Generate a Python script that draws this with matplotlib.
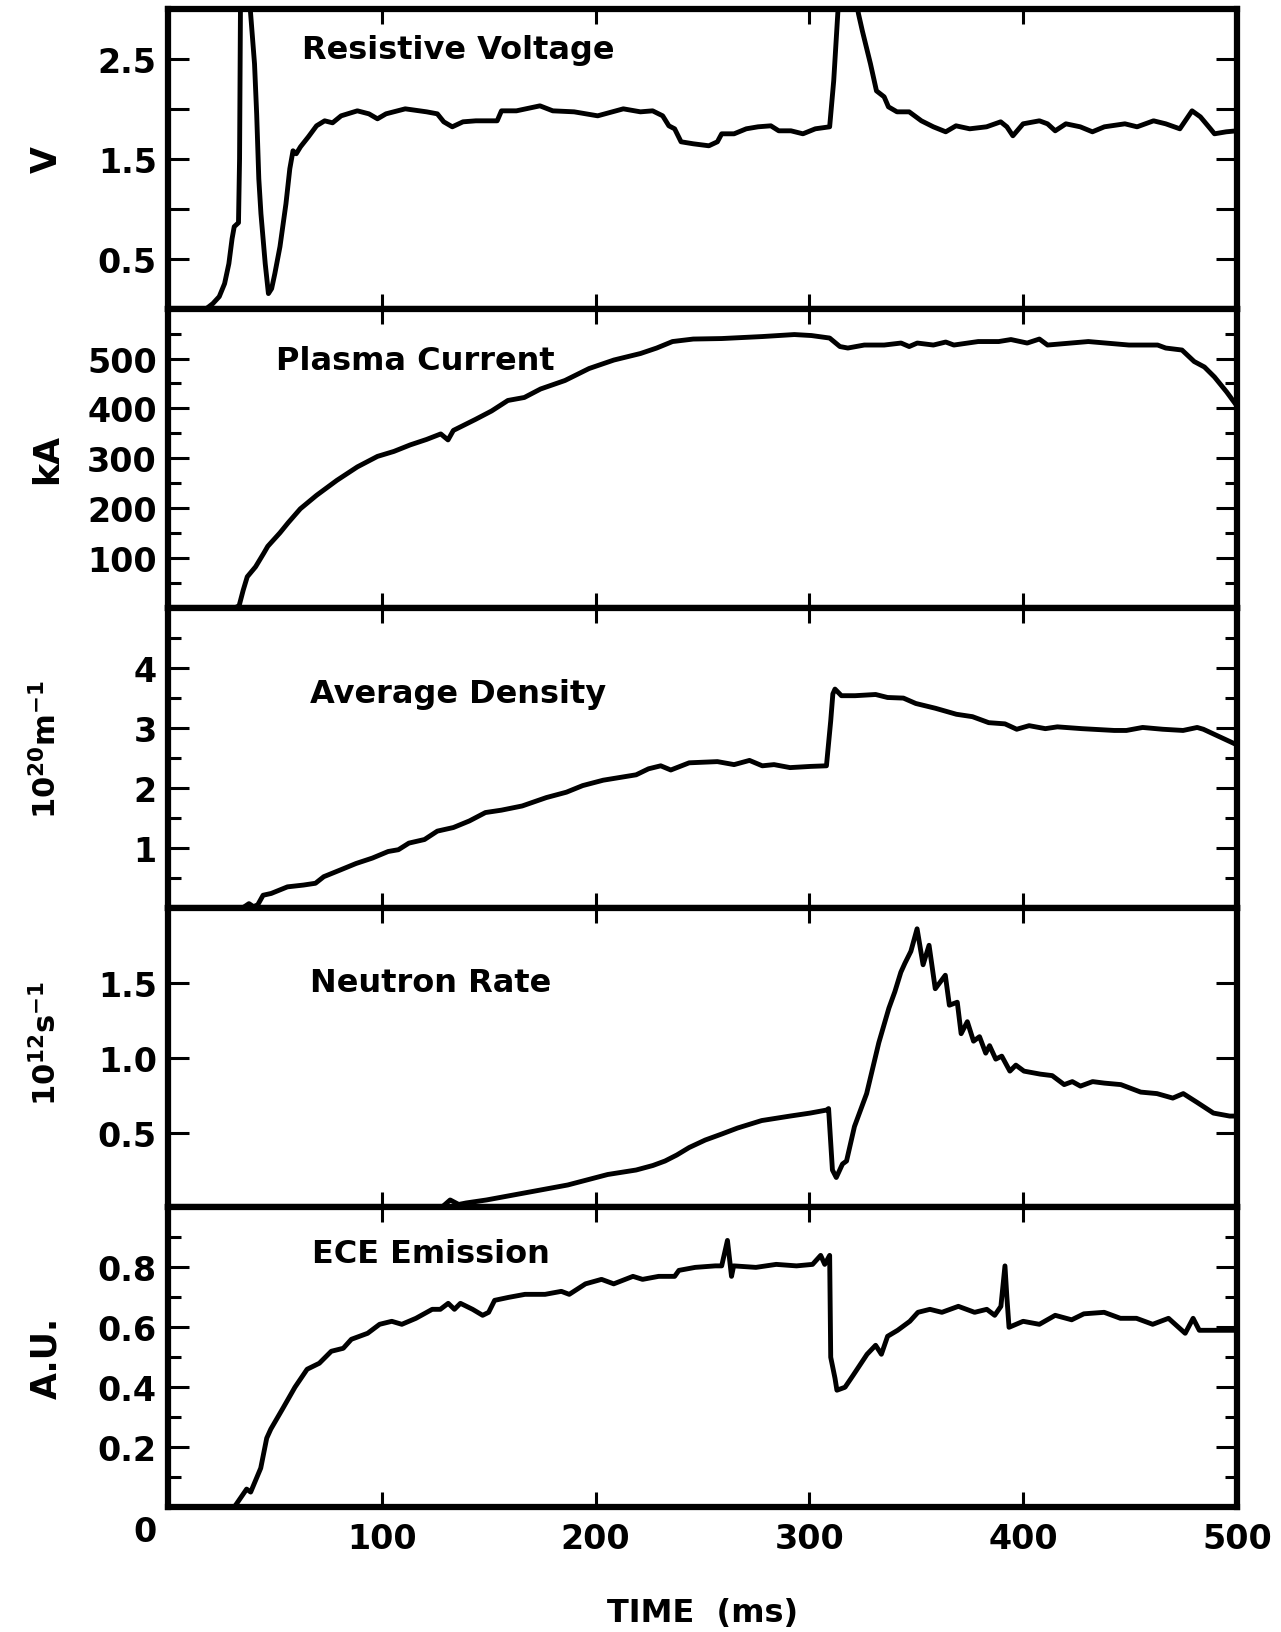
import matplotlib
matplotlib.use("Agg")
import matplotlib.pyplot as plt
from matplotlib.ticker import FixedLocator
from matplotlib.transforms import ScaledTranslation

# time base (ms) and traces for each diagnostic
t_volt = [0, 18, 21, 24, 26.5, 28.5, 30, 31, 33, 33.5, 34, 37, 38.5, 40.5, 41.5, 42.5, 43.5,
          45.5, 47, 48.5, 50, 52.4, 55.2, 57, 58.5, 60, 62, 65.7, 69.5, 73.3, 77, 81, 88.6,
          94, 98, 102, 111, 121, 126, 129, 133, 138, 144, 154, 156, 163, 174, 180, 190, 201,
          213, 221, 226.7, 231.4, 234.3, 237, 240, 245.7, 253, 257, 259, 264.8, 270.5, 276,
          282, 285.7, 291.4, 297, 302.8, 309.5, 311.4, 314, 316, 320, 323, 324.8, 328.6,
          331.4, 335, 337, 341, 346.7, 352.4, 358, 363.8, 368.6, 375, 382.9, 389.5, 392.4,
          395.2, 400, 407.6, 411.4, 415, 420, 426.7, 432.4, 438, 447.6, 453.3, 461, 466.7,
          473.3, 479, 482.9, 487.6, 489.5, 495, 500]
volt = [0, 0, 0.05, 0.12, 0.25, 0.45, 0.7, 0.82, 0.86, 1.5, 3.3, 3.3, 3.0, 2.45, 1.95, 1.3,
        0.95, 0.45, 0.15, 0.2, 0.35, 0.62, 1.05, 1.4, 1.58, 1.55, 1.62, 1.72, 1.83, 1.88,
        1.86, 1.93, 1.98, 1.95, 1.9, 1.95, 2.0, 1.97, 1.95, 1.87, 1.82, 1.87, 1.88, 1.88,
        1.98, 1.98, 2.03, 1.98, 1.97, 1.93, 2.0, 1.97, 1.98, 1.93, 1.83, 1.8, 1.67, 1.65,
        1.63, 1.67, 1.75, 1.75, 1.8, 1.82, 1.83, 1.78, 1.78, 1.75, 1.8, 1.82, 2.28, 3.2,
        3.3, 3.3, 2.95, 2.78, 2.45, 2.18, 2.12, 2.02, 1.97, 1.97, 1.88, 1.82, 1.77, 1.83,
        1.8, 1.82, 1.87, 1.82, 1.73, 1.85, 1.88, 1.85, 1.78, 1.85, 1.82, 1.77, 1.82, 1.85,
        1.82, 1.88, 1.85, 1.8, 1.98, 1.92, 1.8, 1.75, 1.77, 1.78]

t_ip = [0, 31, 33.3, 35.2, 37.1, 41, 44.8, 46.7, 52.4, 56.2, 61.9, 69.5, 79, 88.6, 98, 105.7,
        113.3, 121, 127.6, 131, 133.5, 143.8, 151.4, 159, 166.7, 174.3, 185.7, 197, 208.6,
        221, 228.6, 236, 245.7, 259, 278, 293, 301, 309.5, 314.3, 318, 325.7, 335, 342.9,
        346.7, 350.5, 358, 363.8, 367.6, 379, 388.6, 394.3, 401.9, 407.6, 411.4, 430.5,
        449.5, 462.9, 466.7, 474.3, 480, 484.8, 489.5, 495.2, 500]
ip = [0, 0, 5, 36, 63, 83, 110, 124, 151, 171, 199, 226, 256, 283, 304, 314, 327, 338, 349,
      337, 356, 378, 395, 416, 422, 439, 456, 480, 497, 510, 521, 534, 539, 540, 544, 548,
      546, 541, 524, 521, 527, 527, 531, 524, 531, 527, 533, 527, 534, 534, 538, 531, 539,
      527, 534, 527, 527, 521, 517, 494, 483, 463, 433, 405]

t_dens = [0, 35, 37.9, 40, 42, 44.5, 48.3, 55.9, 63.4, 69, 72.9, 80.5, 88, 95.6, 103, 107.8,
          112.7, 120, 126, 133.5, 141, 148.5, 156, 165.7, 177, 186.4, 194, 203.6, 219, 224.8,
          230.5, 235.2, 243.8, 257, 264.8, 272, 278, 283.5, 291, 300.6, 308, 310, 311, 312,
          315, 321.4, 331, 336.6, 344, 349.8, 359, 368.8, 376.3, 383.9, 391.5, 397, 402.8,
          410.4, 416, 427.5, 442.6, 448.3, 455.9, 465.3, 474.8, 481.4, 484.3, 500]
dens = [0, 0, 0.07, 0.02, 0.05, 0.21, 0.24, 0.35, 0.38, 0.41, 0.52, 0.63, 0.74, 0.83, 0.94,
        0.97, 1.08, 1.14, 1.28, 1.34, 1.45, 1.59, 1.63, 1.70, 1.84, 1.93, 2.04, 2.13, 2.22,
        2.32, 2.37, 2.30, 2.42, 2.44, 2.39, 2.46, 2.37, 2.39, 2.34, 2.36, 2.37, 3.12, 3.57,
        3.65, 3.54, 3.54, 3.56, 3.51, 3.5, 3.41, 3.33, 3.23, 3.19, 3.09, 3.07, 2.98, 3.04,
        2.99, 3.02, 2.99, 2.96, 2.96, 3.01, 2.98, 2.96, 3.01, 2.98, 2.72]

t_neut = [0, 128, 132, 136, 139.5, 149, 168, 187, 205.7, 219, 226.8, 232.5, 238, 243.8, 251.3,
          259, 266.4, 277.7, 291, 300.4, 308, 309, 310.8, 312.6, 315.5, 317.4, 321.1, 326.8,
          332.5, 337.2, 340, 342.8, 344.7, 347.5, 350.4, 353.2, 356, 358.9, 363.6, 365.5,
          369.2, 371, 373.9, 376.8, 379.6, 382.5, 384.3, 387.2, 390, 393.8, 396.6, 400.4, 408,
          413.6, 419.2, 423, 426.8, 432.5, 438, 445.7, 455, 462.6, 470, 474.9, 481.5, 489,
          496.6, 500]
neut = [0, 0, 0.05, 0.02, 0.03, 0.05, 0.10, 0.15, 0.22, 0.25, 0.28, 0.31, 0.35, 0.40, 0.45,
        0.49, 0.53, 0.58, 0.61, 0.63, 0.65, 0.66, 0.25, 0.20, 0.29, 0.31, 0.54, 0.76, 1.10,
        1.33, 1.44, 1.57, 1.63, 1.71, 1.86, 1.62, 1.75, 1.46, 1.55, 1.35, 1.37, 1.16, 1.24,
        1.11, 1.14, 1.03, 1.08, 0.99, 1.01, 0.91, 0.95, 0.91, 0.89, 0.88, 0.82, 0.84, 0.81,
        0.84, 0.83, 0.82, 0.77, 0.76, 0.73, 0.76, 0.70, 0.63, 0.61, 0.61]

t_ece = [0, 31, 32, 36.8, 38.7, 43.4, 46.2, 48.1, 53.8, 59.4, 65.1, 70.8, 76.4, 82, 85.8, 93.4,
         99, 104.7, 109.4, 116, 123.6, 127.4, 131.1, 134, 136.8, 142.5, 147.2, 150, 152.8,
         159.4, 167, 176.4, 184, 187.7, 195.3, 202.8, 208.5, 217.5, 222, 229.5, 237, 239,
         246.6, 256, 259, 261.7, 263.6, 264.6, 275, 284.5, 294, 301.5, 305.3, 307.2, 309.5,
         310, 312, 312.9, 316.7, 320.5, 327, 331, 333.7, 336.6, 341.3, 347, 350.8, 356.4,
         362, 369.7, 377.3, 383, 386.7, 389.6, 391.5, 392.4, 393.4, 400, 407.6, 415, 422.7,
         428.4, 437.9, 445.5, 453, 460.6, 468, 475.8, 479.5, 482.4, 496.6, 500]
ece = [0, 0, 0.01, 0.06, 0.05, 0.13, 0.23, 0.26, 0.33, 0.40, 0.46, 0.48, 0.52, 0.53, 0.56,
       0.58, 0.61, 0.62, 0.61, 0.63, 0.66, 0.66, 0.68, 0.66, 0.68, 0.66, 0.64, 0.65, 0.69,
       0.70, 0.71, 0.71, 0.72, 0.71, 0.745, 0.76, 0.745, 0.77, 0.76, 0.77, 0.77, 0.79, 0.80,
       0.805, 0.805, 0.89, 0.77, 0.805, 0.80, 0.81, 0.805, 0.81, 0.84, 0.81, 0.84, 0.50,
       0.43, 0.39, 0.40, 0.44, 0.51, 0.54, 0.51, 0.57, 0.59, 0.62, 0.65, 0.66, 0.65, 0.67,
       0.65, 0.66, 0.64, 0.67, 0.805, 0.70, 0.60, 0.62, 0.61, 0.64, 0.625, 0.645, 0.65, 0.63,
       0.63, 0.61, 0.63, 0.58, 0.63, 0.59, 0.59, 0.59]

titles = ["Resistive Voltage", "Plasma Current", "Average Density", "Neutron Rate", "ECE Emission"]
units = ["V", "kA", r"$10^{20}m^{-1}$", r"$10^{12}s^{-1}$", "A.U."]
time_ticks = [100, 200, 300, 400, 500]

volt_ticks = [0.5, 1.0, 1.5, 2.0, 2.5]
volt_labels = ["0.5", "", "1.5", "", "2.5"]
ip_ticks = [100, 200, 300, 400, 500]
ip_minor = [50, 150, 250, 350, 450, 550]
dens_ticks = [1, 2, 3, 4]
dens_minor = [0.5, 1.5, 2.5, 3.5, 4.5]
neut_ticks = [0.5, 1.0, 1.5]
neut_labels = ["0.5", "1.0", "1.5"]
ece_ticks = [0, 0.2, 0.4, 0.6, 0.8]
ece_labels = ["0", "0.2", "0.4", "0.6", "0.8"]
ece_minor = [0.1, 0.3, 0.5, 0.7, 0.9]

plt.rcParams["font.family"] = "DejaVu Sans"
plt.rcParams["font.weight"] = "bold"
plt.rcParams["axes.labelweight"] = "bold"
plt.rcParams["mathtext.fontset"] = "custom"
plt.rcParams["mathtext.rm"] = "DejaVu Sans:bold"
plt.rcParams["mathtext.it"] = "DejaVu Sans:bold"
plt.rcParams["mathtext.bf"] = "DejaVu Sans:bold"
plt.rcParams["mathtext.default"] = "rm"

fig, axes = plt.subplots(5, 1, figsize=(12.81, 16.33), dpi=100, sharex=True)
fig.subplots_adjust(left=0.1311, right=0.9656, top=0.9939, bottom=0.0765, hspace=0)

series = [(t_volt, volt), (t_ip, ip), (t_dens, dens), (t_neut, neut), (t_ece, ece)]
ylims = [(0, 3.0), (0, 600), (0, 5.0), (0, 2.0), (0, 1.0)]
title_pos = [(0.125, 0.837), (0.101, 0.80), (0.133, 0.686), (0.133, 0.721), (0.135, 0.817)]
# unit labels: font size and vertical centre (axes fraction)
unit_size = [25, 25, 22, 22, 25]
unit_y = [0.5, 0.5, 0.53, 0.55, 0.5]

for i, ax in enumerate(axes):
    t, y = series[i]
    ax.plot(t, y, color="black", lw=3.5, solid_joinstyle="round", solid_capstyle="round")
    ax.set_xlim(0, 500)
    ax.set_ylim(*ylims[i])
    ax.set_xticks(time_ticks)
    ax.tick_params(axis="x", which="major", direction="in", top=True, bottom=True,
                   length=11, width=2.2, labelsize=24, pad=11)
    ax.tick_params(axis="y", which="major", direction="in", left=True, right=True,
                   length=15, width=2.2, labelsize=24, pad=8)
    ax.tick_params(axis="y", which="minor", direction="in", left=True, right=True,
                   length=9, width=2.2)
    for s in ax.spines.values():
        s.set_linewidth(4.5)
    tx, ty = title_pos[i]
    ax.text(tx, ty, titles[i], transform=ax.transAxes, fontsize=23, ha="left", va="baseline")
    ax.set_ylabel(units[i], fontsize=unit_size[i], va="baseline")
    ax.yaxis.set_label_coords(-0.104, unit_y[i])

axes[0].set_yticks(volt_ticks, volt_labels)
axes[1].set_yticks(ip_ticks)
axes[1].yaxis.set_minor_locator(FixedLocator(ip_minor))
axes[2].set_yticks(dens_ticks)
axes[2].yaxis.set_minor_locator(FixedLocator(dens_minor))
axes[3].set_yticks(neut_ticks, neut_labels)
axes[4].set_yticks(ece_ticks, ece_labels)
axes[4].yaxis.set_minor_locator(FixedLocator(ece_minor))

# the zero label on the bottom panel sits just below the axis line
zero_label = axes[4].yaxis.get_major_ticks()[0].label1
zero_label.set_verticalalignment("top")
zero_label.set_transform(zero_label.get_transform()
                         + ScaledTranslation(0, -6 / 72, fig.dpi_scale_trans))

axes[4].set_xticks(time_ticks, [str(v) for v in time_ticks])
axes[4].set_xlabel("TIME  (ms)", fontsize=23, va="center")
axes[4].xaxis.set_label_coords(0.5, -0.353)

fig.savefig("out.png", dpi=100)
